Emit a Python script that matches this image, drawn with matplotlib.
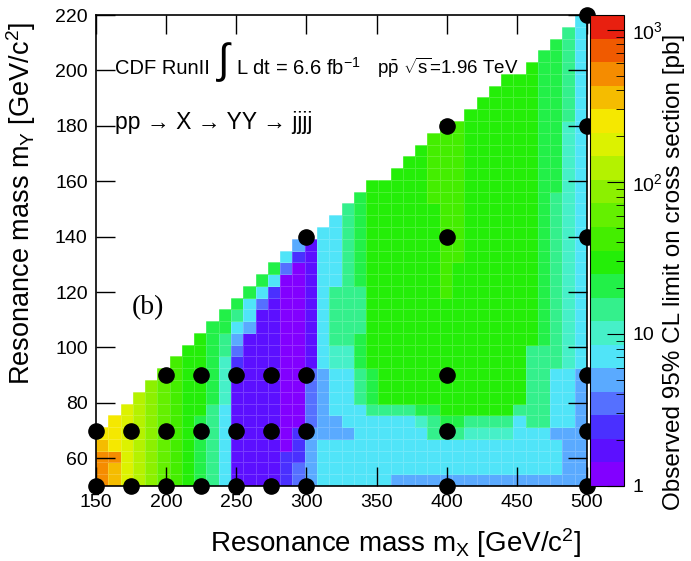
import numpy as np
import matplotlib
matplotlib.use("Agg")
import matplotlib.pyplot as plt
from matplotlib.colors import ListedColormap, LogNorm
from matplotlib.ticker import FixedLocator, LogLocator, NullFormatter

plt.rcParams['font.family'] = ['Liberation Sans', 'DejaVu Sans']
plt.rcParams['mathtext.fontset'] = 'custom'
plt.rcParams['mathtext.rm'] = 'Liberation Sans'
plt.rcParams['mathtext.it'] = 'Liberation Sans'

# 40 x 40 interpolation grid (TGraph2D style)
mx_range = (150, 500)
my_range = (50, 220)
n_bins = 40

# upper end of the colour scale [pb] and number of colour bands
z_max = 1250.0
n_bands = 20

# colour band of each cell (0 = lowest ... j = 19 highest), one string per
# m_X column, read bottom (m_Y = 50) upwards; cells past the end are empty
band_cols = [
    "hhhgf",
    "gghfff",
    "eeeeeee",
    "dddddddd",
    "ccccccccc",
    "bbbbbbbbbb",
    "aaaaaaaaaaa",
    "999999999999",
    "8888889999999",
    "77777778888888",
    "555555566667788",
    "1111111111234578",
    "11111111111114558",
    "111111111111111358",
    "1111111111111111258",
    "22200000000000000035",
    "332220000000000000024",
    "444443333311111111111",
    "5555444444555555555555",
    "55554455556677777555555",
    "555545555566777777777777",
    "5555555777888777788888888",
    "55555578889999999999999999",
    "55555579999999999999999999",
    "455555799999999999999999999",
    "4555557999999999999999999999",
    "45555689999999999999999999999",
    "455577899999999999999999aaaaaa",
    "4555789999999999aaaaaaaaaaaaaaa",
    "4555789999999999999aaaaaaaaaaaa",
    "45556799999999999999999999999999",
    "455567999999999999999999999999999",
    "4555679999999999999999999999999999",
    "45556799999999999999999999999999999",
    "45555579999999999999999999999999999",
    "455557777777999999999999999999999999",
    "4555577777778888888888888888888888888",
    "45554555557777777777777778888888888888",
    "444445555566666666666666666666677777777",
    "4444444444555555555555555555555555555555",
]

band_colors = [
    "#8200ff", "#5c10ff", "#4a30ff", "#5570ff", "#5aaaff",
    "#50e4f8", "#46f0c8", "#34f08c", "#22f048", "#24ee08",
    "#44ee00", "#64f000", "#8cf000", "#b4f200", "#dcf200",
    "#f5e800", "#f5bc00", "#f58c00", "#f05a00", "#e82010",
]

# measured signal points (m_X, list of m_Y)
points_mx = [150, 175, 200, 225, 250, 275, 300, 400, 500]
points_my = [
    [50, 70],
    [50, 70],
    [50, 70, 90],
    [50, 70, 90],
    [50, 70, 90],
    [50, 70, 90],
    [50, 70, 90, 140],
    [50, 70, 90, 140, 180],
    [50, 70, 90, 140, 180, 220],
]

codes = "0123456789abcdefghij"
band_value = 10 ** ((np.arange(n_bands) + 0.5) * np.log10(z_max) / n_bands)

z = np.full((n_bins, n_bins), np.nan)
for i, col in enumerate(band_cols):
    for j, ch in enumerate(col):
        z[j, i] = band_value[codes.index(ch)]
z = np.ma.masked_invalid(z)

xe = np.linspace(mx_range[0], mx_range[1], n_bins + 1)
ye = np.linspace(my_range[0], my_range[1], n_bins + 1)

fig = plt.figure(figsize=(6.91, 5.61), dpi=100)
ax = fig.add_axes([96 / 691, 75 / 561, 491 / 691, 471 / 561])
cax = fig.add_axes([590 / 691, 75 / 561, 34 / 691, 471 / 561])

cmap = ListedColormap(band_colors)
norm = LogNorm(vmin=1, vmax=z_max)
mesh = ax.pcolormesh(xe, ye, z, cmap=cmap, norm=norm,
                     edgecolors=(1, 1, 1, 0.18), linewidth=0.4)

px, py = [], []
for x, ys in zip(points_mx, points_my):
    for y in ys:
        px.append(x)
        py.append(y)
ax.scatter(px, py, s=120, color='black', zorder=5, clip_on=False)

ax.set_xlim(*mx_range)
ax.set_ylim(*my_range)
ax.xaxis.set_major_locator(FixedLocator(np.arange(150, 501, 50)))
ax.yaxis.set_major_locator(FixedLocator(np.arange(60, 221, 20)))
ax.tick_params(direction='in', length=14, width=1, top=True, right=True,
               labelsize=14, pad=6)
for s in ax.spines.values():
    s.set_linewidth(1.2)

ax.set_xlabel(r'Resonance mass m$_X$ [GeV/c$^2$]', fontsize=20)
ax.xaxis.set_label_coords(0.61, -0.085)
ax.set_ylabel(r'Resonance mass m$_Y$ [GeV/c$^2$]', fontsize=19.5)
ax.yaxis.set_label_coords(-0.118, 0.6)

hdr = 14.5
ax.text(0.039, 0.887, 'CDF RunII', transform=ax.transAxes, fontsize=hdr,
        va='center', ha='left')
ax.text(0.262, 0.90, r'$\int$', transform=ax.transAxes, fontsize=30,
        va='center', ha='center')
ax.text(0.285, 0.887, r'L dt = 6.6 fb$^{-1}$', transform=ax.transAxes,
        fontsize=hdr, va='center', ha='left')
ax.text(0.573, 0.887, r'p$\bar{\rm p}$ $\sqrt{\rm s}$=1.96 TeV',
        transform=ax.transAxes, fontsize=13.5, va='center', ha='left')
ax.text(0.039, 0.771, 'pp \u2192 X \u2192 YY \u2192 jjjj',
        transform=ax.transAxes, fontsize=16.5, va='center', ha='left')
ax.text(0.106, 0.378, '(b)', transform=ax.transAxes, fontsize=20,
        family='Liberation Serif', va='center', ha='center')

cb = fig.colorbar(mesh, cax=cax)
cb.outline.set_linewidth(0.8)
cax.yaxis.set_ticks_position('right')
cax.set_yticks([1, 10, 100, 1000])
cax.set_yticklabels(['1', '10', r'10$^2$', r'10$^3$'])
cax.yaxis.set_minor_locator(LogLocator(base=10, subs=np.arange(2, 10)))
cax.yaxis.set_minor_formatter(NullFormatter())
cax.tick_params(which='major', direction='in', length=12, labelsize=14,
                pad=6)
cax.tick_params(which='minor', direction='in', length=6)
fig.text(0.975, 0.515, 'Observed 95% CL limit on cross section [pb]',
         rotation=90, fontsize=17.5, va='center', ha='center')

fig.savefig('out.png', dpi=100)
